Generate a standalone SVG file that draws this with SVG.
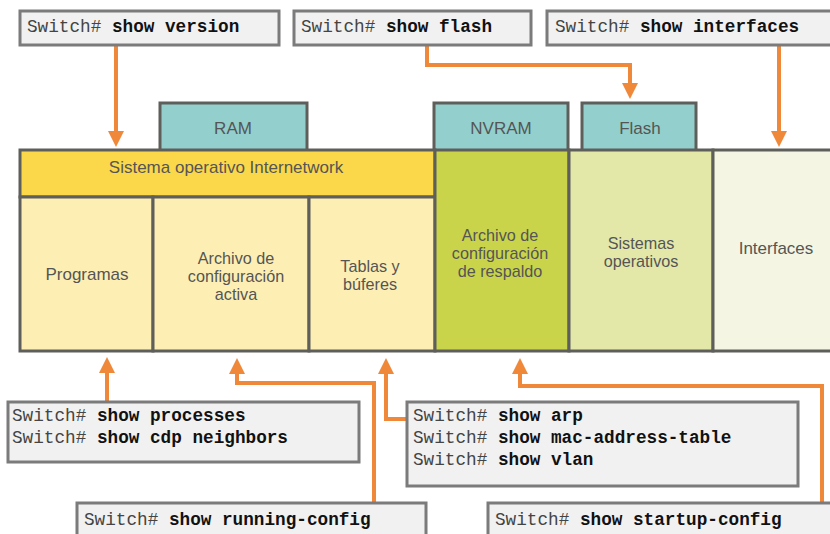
<svg xmlns="http://www.w3.org/2000/svg" width="830" height="534" viewBox="0 0 830 534">
<style>
.cmd{fill:#f1f1f1;stroke:#7b7b7b;stroke-width:3}
.ct{font-family:"Liberation Mono","Courier New",monospace;font-size:17.7px;fill:#444}
.ct .b{font-weight:bold;fill:#111}
.mem{fill:#93cfcc;stroke:#5e5e5a;stroke-width:3}
.cell{stroke:#5e5e5a;stroke-width:3}
.lb{font-family:"Liberation Sans",Arial,sans-serif;font-size:17px;fill:#555;text-anchor:middle}
.ml{font-size:16.2px}
.ar{fill:none;stroke:#f0883a;stroke-width:4}
</style>
<defs>
<marker id="ah" viewBox="0 0 16 16" refX="4" refY="8" markerWidth="16" markerHeight="16" markerUnits="userSpaceOnUse" orient="auto">
<path d="M0,0 L16,8 L0,16 z" fill="#f0883a"/>
</marker>
</defs>
<rect width="830" height="534" fill="#fff"/>
<g id="connectors">
<path class="ar" d="M116,46 V135" marker-end="url(#ah)"/>
<path class="ar" d="M427,46 V65 H630 V87" marker-end="url(#ah)"/>
<path class="ar" d="M779,46 V135" marker-end="url(#ah)"/>
<path class="ar" d="M107,402 V369" marker-end="url(#ah)"/>
<path class="ar" d="M374,503 V383 H237 V370" marker-end="url(#ah)"/>
<path class="ar" d="M407,419 H386 V370" marker-end="url(#ah)"/>
<path class="ar" d="M822,503 V386 H520 V370" marker-end="url(#ah)"/>
</g>
<g id="ram"><rect class="mem" x="160" y="103" width="147" height="48"/><text class="lb" x="233" y="134">RAM</text></g>
<g id="nvram"><rect class="mem" x="434" y="103" width="134" height="48"/><text class="lb" x="501" y="134">NVRAM</text></g>
<g id="flash"><rect class="mem" x="582" y="103" width="114" height="48"/><text class="lb" x="640" y="134">Flash</text></g>
<g id="ios"><rect class="cell" x="20" y="150" width="415" height="47" fill="#fbd84a"/><text class="lb" x="226" y="173">Sistema operativo Internetwork</text></g>
<g id="programas"><rect class="cell" x="20" y="197" width="133" height="154" fill="#fdefb3"/><text class="lb" x="87" y="280">Programas</text></g>
<g id="running"><rect class="cell" x="153" y="197" width="156" height="154" fill="#fdefb3"/><text class="lb ml" x="236" y="264">Archivo de</text><text class="lb ml" x="236" y="282">configuración</text><text class="lb ml" x="236" y="300">activa</text></g>
<g id="tablas"><rect class="cell" x="309" y="197" width="126" height="154" fill="#fdefb3"/><text class="lb ml" x="370" y="272">Tablas y</text><text class="lb ml" x="370" y="290">búferes</text></g>
<g id="startup"><rect class="cell" x="435" y="150" width="134" height="201" fill="#c9d44b"/><text class="lb ml" x="500" y="241">Archivo de</text><text class="lb ml" x="500" y="259">configuración</text><text class="lb ml" x="500" y="277">de respaldo</text></g>
<g id="sistemas"><rect class="cell" x="569" y="150" width="144" height="201" fill="#e3e8a9"/><text class="lb ml" x="641" y="249">Sistemas</text><text class="lb ml" x="641" y="267">operativos</text></g>
<g id="interfaces"><rect class="cell" x="713" y="150" width="130" height="201" fill="#f4f5e3"/><text class="lb" x="776" y="254">Interfaces</text></g>
<g id="cmd-version"><rect class="cmd" x="20" y="11" width="259" height="34"/><text class="ct" x="27" y="32">Switch# <tspan class="b">show version</tspan></text></g>
<g id="cmd-flash"><rect class="cmd" x="294" y="11" width="237" height="34"/><text class="ct" x="301" y="32">Switch# <tspan class="b">show flash</tspan></text></g>
<g id="cmd-interfaces"><rect class="cmd" x="547" y="11" width="295" height="34"/><text class="ct" x="555" y="32">Switch# <tspan class="b">show interfaces</tspan></text></g>
<g id="cmd-processes"><rect class="cmd" x="8" y="402" width="351" height="60"/><text class="ct" x="12" y="421">Switch# <tspan class="b">show processes</tspan></text><text class="ct" x="12" y="443">Switch# <tspan class="b">show cdp neighbors</tspan></text></g>
<g id="cmd-arp"><rect class="cmd" x="407" y="402" width="391" height="84"/><text class="ct" x="413" y="421">Switch# <tspan class="b">show arp</tspan></text><text class="ct" x="413" y="443">Switch# <tspan class="b">show mac-address-table</tspan></text><text class="ct" x="413" y="465">Switch# <tspan class="b">show vlan</tspan></text></g>
<g id="cmd-running"><rect class="cmd" x="77" y="503" width="349" height="40"/><text class="ct" x="84" y="525">Switch# <tspan class="b">show running-config</tspan></text></g>
<g id="cmd-startup"><rect class="cmd" x="488" y="503" width="360" height="40"/><text class="ct" x="495" y="525">Switch# <tspan class="b">show startup-config</tspan></text></g>
</svg>
